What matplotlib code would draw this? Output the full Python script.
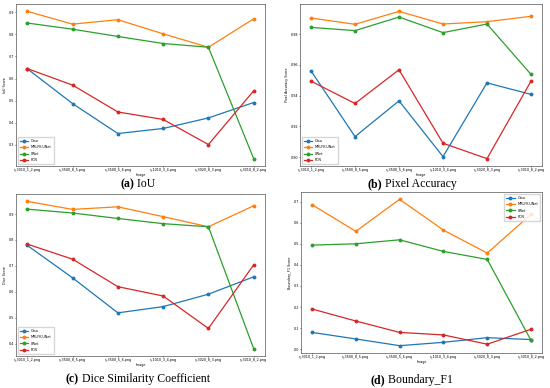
import numpy as np
import matplotlib.pyplot as plt

images = ['s_3010_1_2.png', 's_3500_8_5.png', 's_3500_5_6.png',
          's_1010_3_4.png', 's_3020_8_3.png', 's_3010_8_2.png']
methods = ['Otsu', 'MRLFK-UNet', 'UNet', 'FCN']
colors = ['#1f77b4', '#ff7f0e', '#2ca02c', '#d62728']

iou = {
    'Otsu':       [0.644, 0.486, 0.350, 0.373, 0.421, 0.491],
    'MRLFK-UNet': [0.905, 0.847, 0.867, 0.803, 0.742, 0.871],
    'UNet':       [0.852, 0.824, 0.791, 0.759, 0.742, 0.236],
    'FCN':        [0.645, 0.570, 0.448, 0.414, 0.300, 0.544],
}
pixel_acc = {
    'Otsu':       [0.9561, 0.9134, 0.9366, 0.9004, 0.9483, 0.9408],
    'MRLFK-UNet': [0.9904, 0.9863, 0.9947, 0.9865, 0.9880, 0.9915],
    'UNet':       [0.9843, 0.9822, 0.9910, 0.9809, 0.9865, 0.9538],
    'FCN':        [0.9494, 0.9349, 0.9568, 0.9091, 0.8991, 0.9494],
}
dice = {
    'Otsu':       [0.779, 0.654, 0.519, 0.543, 0.591, 0.658],
    'MRLFK-UNet': [0.949, 0.918, 0.928, 0.890, 0.851, 0.932],
    'UNet':       [0.919, 0.904, 0.883, 0.863, 0.851, 0.381],
    'FCN':        [0.784, 0.726, 0.620, 0.584, 0.459, 0.704],
}
boundary_f1 = {
    'Otsu':       [0.080, 0.049, 0.017, 0.033, 0.055, 0.046],
    'MRLFK-UNet': [0.686, 0.559, 0.711, 0.565, 0.456, 0.640],
    'UNet':       [0.494, 0.500, 0.519, 0.464, 0.426, 0.042],
    'FCN':        [0.191, 0.134, 0.080, 0.068, 0.024, 0.095],
}

panels = [
    (iou, 'IoU Score', [0.3, 0.4, 0.5, 0.6, 0.7, 0.8, 0.9], '{:.1f}', 'lower left',
     [16, 4, 265, 166], ('(a)', ' IoU'), (138, 184)),
    (pixel_acc, 'Pixel Accuracy Score', [0.90, 0.92, 0.94, 0.96, 0.98], '{:.2f}', 'lower left',
     [300, 4, 542, 166], ('(b)', ' Pixel Accuracy'), (412, 184)),
    (dice, 'Dice Score', [0.4, 0.5, 0.6, 0.7, 0.8, 0.9], '{:.1f}', 'lower left',
     [16, 194, 265, 356], ('(c)', ' Dice Similarity Coefficient'), (138, 379)),
    (boundary_f1, 'Boundary_F1 Score', [0.0, 0.1, 0.2, 0.3, 0.4, 0.5, 0.6, 0.7], '{:.1f}', 'upper right',
     [301, 192, 542, 353], ('(d)', ' Boundary_F1'), (412, 380)),
]

W, H = 550, 388
fig = plt.figure(figsize=(5.5, 3.88), dpi=100)
fs = 2.4

captions = []
for data, ylabel, yticks, fmt, loc, box, cap, cpos in panels:
    x0, y0, x1, y1 = box
    ax = fig.add_axes([x0 / W, 1 - y1 / H, (x1 - x0) / W, (y1 - y0) / H])
    x = np.arange(len(images))
    for m, c in zip(methods, colors):
        ax.plot(x, data[m], marker='o', ms=1.8, lw=0.9, color=c, label=m)
    ax.set_xticks(x)
    ax.set_xticklabels(images, fontsize=fs)
    ax.set_yticks(yticks)
    ax.set_yticklabels([fmt.format(v) for v in yticks], fontsize=fs)
    ax.set_xlabel('Image', fontsize=fs, labelpad=0.5)
    ax.set_ylabel(ylabel, fontsize=fs, labelpad=0.8)
    ax.tick_params(length=1.0, width=0.4, pad=0.6)
    for s in ax.spines.values():
        s.set_linewidth(0.5)
        s.set_color('#555555')
    ax.legend(loc=loc, fontsize=fs, handlelength=2.5, borderpad=0.7,
              labelspacing=0.7, frameon=True, edgecolor='#cccccc')
    captions.append((cap, cpos))

fig.canvas.draw()
r = fig.canvas.get_renderer()
for (bold, rest), (cx, cy) in captions:
    t1 = fig.text(0, 0, bold, fontsize=8.5, family='Liberation Serif', weight='bold')
    t2 = fig.text(0, 0, rest, fontsize=8.5, family='Liberation Serif')
    w1 = t1.get_window_extent(r).width
    w2 = t2.get_window_extent(r).width
    start = cx - (w1 + w2) / 2
    t1.set_position((start / W, 1 - cy / H))
    t2.set_position(((start + w1) / W, 1 - cy / H))
    t1.set_va('center')
    t2.set_va('center')

fig.savefig('out.png', dpi=100)
